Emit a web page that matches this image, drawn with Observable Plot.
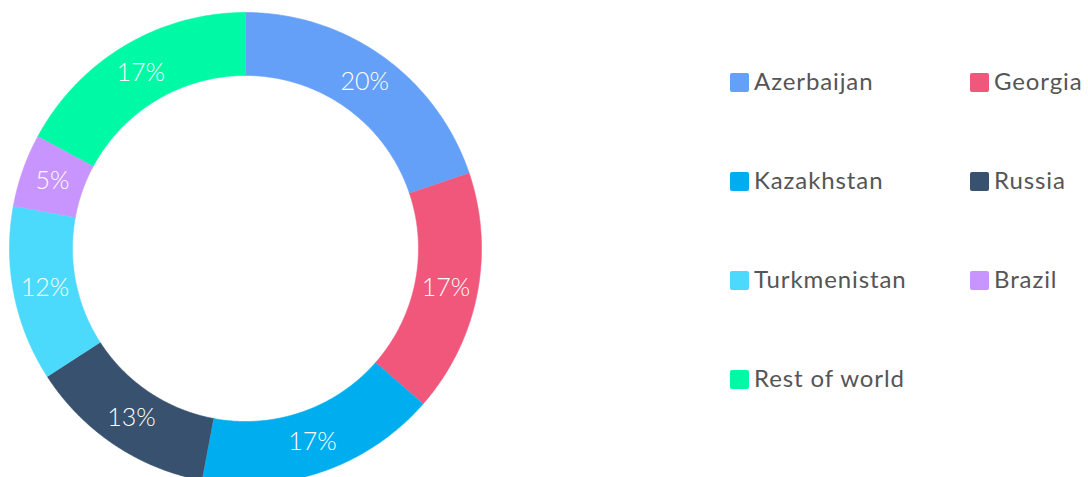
<!DOCTYPE html>
<html>
<head>
<meta charset="utf-8">
<script src="https://cdn.jsdelivr.net/npm/d3@7"></script>
<script src="https://cdn.jsdelivr.net/npm/@observablehq/plot@0.6"></script>
<style>
  html, body { margin: 0; padding: 0; background: #fff; overflow: hidden; }
  #wrap { position: relative; width: 1088px; height: 477px; }
  #legend { position: absolute; left: 0; top: 0; width: 1088px; height: 477px; pointer-events: none;
            font-family: Lato, "Noto Sans", sans-serif; font-size: 24px; letter-spacing: 0.9px; color: #555; }
  .item { position: absolute; display: flex; align-items: center; white-space: nowrap; }
  .sw { width: 19px; height: 19px; border-radius: 2px; margin-right: 5px; flex: none; }
  .tx { position: relative; top: -2px; }
</style>
</head>
<body>
<div id="wrap"><div id="chart"></div><div id="legend"></div></div>
<script>
const countries = ["Azerbaijan", "Georgia", "Kazakhstan", "Russia", "Turkmenistan", "Brazil", "Rest of world"];
const shares = [19.8, 16.6, 16.5, 12.9, 12.0, 5.0, 17.1];
const colors = ["#64a0f8", "#f0577a", "#00aeef", "#37516f", "#4bd9fc", "#c795fd", "#00f9a5"];

const data = countries.map((name, i) => ({name, value: shares[i]}));
const innerRatio = 173 / 236;

const arcs = d3.pie().sort(null).value(d => d.value).startAngle(0).endAngle(2 * Math.PI)(data);

// sample polygon outlines for each slice from the pie layout
const outline = [];
for (const a of arcs) {
  const n = Math.max(8, Math.ceil((a.endAngle - a.startAngle) / 0.01));
  for (let k = 0; k <= n; k++) {
    const t = a.startAngle + (a.endAngle - a.startAngle) * k / n;
    outline.push({name: a.data.name, x: Math.sin(t), y: Math.cos(t)});
  }
  for (let k = n; k >= 0; k--) {
    const t = a.startAngle + (a.endAngle - a.startAngle) * k / n;
    outline.push({name: a.data.name, x: innerRatio * Math.sin(t), y: innerRatio * Math.cos(t)});
  }
}
const midR = (1 + innerRatio) / 2;
const labels = arcs.map(a => {
  const m = (a.startAngle + a.endAngle) / 2;
  return {name: a.data.name, x: midR * Math.sin(m), y: midR * Math.cos(m), text: Math.round(a.data.value) + "%"};
});

const cx = 245, cy = 248, R = 236;
const chart = Plot.plot({
  width: 1088,
  height: 477,
  margin: 0,
  x: {domain: [-1, 1], range: [cx - R, cx + R], axis: null},
  y: {domain: [-1, 1], range: [cy + R, cy - R], axis: null},
  color: {domain: countries, range: colors},
  style: {fontFamily: "Lato, 'Noto Sans', sans-serif", background: "white"},
  marks: [
    Plot.line(outline, {x: "x", y: "y", z: "name", fill: "name", stroke: "name", strokeWidth: 0.6}),
    Plot.text(labels, {x: "x", y: "y", text: "text", fill: "white", fontSize: 25, fontWeight: 300})
  ]
});
document.getElementById("chart").appendChild(chart);

const legend = document.getElementById("legend");
const colX = [730, 970], row0 = 82, rowStep = 99;
countries.forEach((name, i) => {
  const item = document.createElement("div");
  item.className = "item";
  item.style.left = colX[i % 2] + "px";
  item.style.top = (row0 + Math.floor(i / 2) * rowStep - 15) + "px";
  item.style.height = "30px";
  const sw = document.createElement("span");
  sw.className = "sw";
  sw.style.background = colors[i];
  const tx = document.createElement("span");
  tx.className = "tx";
  tx.textContent = name;
  item.appendChild(sw);
  item.appendChild(tx);
  legend.appendChild(item);
});
</script>
</body>
</html>
